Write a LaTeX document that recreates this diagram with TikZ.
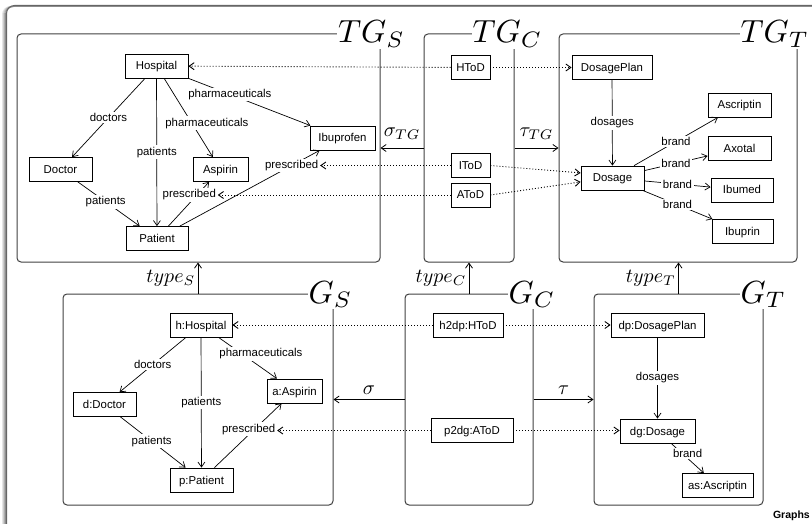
\documentclass[tikz,border=0pt]{standalone}
\usepackage{fontspec}
\setmainfont{Liberation Sans}
\usetikzlibrary{arrows.meta,calc}
\begin{document}
\begin{tikzpicture}[x=1pt,y=-1pt,
  font=\fontsize{11.4}{13}\selectfont,
  >={Straight Barb[length=5pt,width=7pt]},
  box/.style={draw, line width=0.8pt, minimum height=24pt, inner sep=1pt, text height=9pt, text depth=1pt},
  lab/.style={fill=white, inner sep=1.5pt},
  edge/.style={->, line width=0.7pt},
  dot/.style={->, line width=0.9pt, dash pattern=on 1pt off 2pt},
  panel/.style={draw=black!75, line width=1pt, rounded corners=4pt, inner sep=0pt},
  big/.style={fill=white, inner sep=0.3pt, scale=3.2, anchor=base west, font=\fontsize{10}{12}\selectfont},
  sm/.style={scale=2, inner sep=1pt, font=\fontsize{10}{12}\selectfont},
  conn/.style={->, line width=0.8pt}]
\useasboundingbox (0,0) rectangle (812,524);
% outer frame with shadow
\foreach \xx/\cc in {2.5/10,3.5/20,4.5/32,5.5/45}{
  \draw[black!\cc, line width=1pt, rounded corners=8pt] (\xx,524) -- (\xx,6.5) -- (812,6.5);
}
\draw[black!60, line width=1pt, rounded corners=8pt] (6.5,524) -- (6.5,5.5) -- (812,5.5);

% panels
\node[panel, minimum width=363pt, minimum height=228pt] (TGS) at (198.5,148) {};
\node[panel, minimum width=90pt, minimum height=228pt] (TGC) at (469,148) {};
\node[panel, minimum width=238pt, minimum height=228pt] (TGT) at (678,148) {};
\node[panel, minimum width=270pt, minimum height=211pt] (GS) at (198,399.5) {};
\node[panel, minimum width=128pt, minimum height=211pt] (GC) at (469,399.5) {};
\node[panel, minimum width=169pt, minimum height=211pt] (GT) at (678.5,399.5) {};

\node[big] (lTGS) at (336.5,43) {$TG_S$};
\node[big] (lTGC) at (471,43) {$TG_C$};
\node[big] (lTGT) at (739,43) {$TG_T$};
\node[big] (lGS) at (307,303) {$G_S$};
\node[big] (lGC) at (507,303) {$G_C$};
\node[big] (lGT) at (739,303) {$G_T$};

% connections between panels
\draw[conn] (TGC) -- node[sm, above=3pt] {$\sigma_{TG}$} (TGS);
\draw[conn] (TGC) -- node[sm, above=3pt] {$\tau_{TG}$} (TGT);
\draw[conn] (GC) -- node[sm, above=1pt] {$\sigma$} (GS);
\draw[conn] (GC) -- node[sm, above=1pt] {$\tau$} (GT);
\draw[conn] (GS.north) -- node[sm, left] {$type_S$} (GS.north |- TGS.south);
\draw[conn] (GC.north) -- node[sm, left] {$type_C$} (GC.north |- TGC.south);
\draw[conn] (GT.north) -- node[sm, left] {$type_T$} (GT.north |- TGT.south);

% TG_S
\node[box, minimum width=63pt] (hosp) at (156.5,66) {Hospital};
\node[box, minimum width=63pt] (doc) at (60.5,169.5) {Doctor};
\node[box, minimum width=55pt] (asp) at (220.5,169.5) {Aspirin};
\node[box, minimum width=65pt] (ibu) at (342.5,138) {Ibuprofen};
\node[box, minimum width=62pt] (pat) at (157,238.5) {Patient};
\draw[edge] (hosp) -- node[lab] {doctors} (doc);
\draw[edge] (hosp) -- node[lab] {patients} (pat);
\draw[edge] (hosp) -- node[lab, pos=.57, xshift=15pt] {pharmaceuticals} (asp);
\draw[edge] (hosp) -- node[lab, pos=.34] {pharmaceuticals} (ibu);
\draw[edge] (doc) -- node[lab, pos=.45] {patients} (pat);
\draw[edge] (pat) -- node[lab, pos=.71, xshift=-8pt] (lpa) {prescribed} (asp);
\draw[edge] (pat) -- node[lab, pos=.8] (lpi) {prescribed} (ibu);

% TG_C
\node[box, minimum width=39pt] (htod) at (470.5,67.5) {HToD};
\node[box, minimum width=39pt] (itod) at (470.5,165.5) {IToD};
\node[box, minimum width=39pt] (atod) at (470.5,195) {AToD};

% TG_T
\node[box, minimum width=80pt] (dplan) at (612,67.5) {DosagePlan};
\node[box, minimum width=63pt] (dos) at (612.5,178) {Dosage};
\node[box, minimum width=63pt] (ascr) at (739.5,105) {Ascriptin};
\node[box, minimum width=63pt] (axo) at (739.5,148.5) {Axotal};
\node[box, minimum width=62pt] (ibumed) at (742,190) {Ibumed};
\node[box, minimum width=61pt] (ibuprin) at (742.5,231.5) {Ibuprin};
\draw[edge] (dplan) -- node[lab] {dosages} (dos);
\draw[edge] (dos) -- node[lab] {brand} (ascr);
\draw[edge] (dos) -- node[lab] {brand} (axo);
\draw[edge] (dos) -- node[lab] {brand} (ibumed);
\draw[edge] (dos) -- node[lab] {brand} (ibuprin);

% dotted correspondences (top)
\draw[dot] (htod) -- (hosp);
\draw[dot] (htod) -- (dplan);
\draw[dot] (itod) -- (itod -| lpi.east);
\draw[dot] (atod) -- (atod -| lpa.east);
\draw[dot] (itod.east) -- (dos.171);
\draw[dot] (atod.east) -- (dos.187);

% G_S
\node[box, minimum width=62pt] (hb) at (201,325) {h:Hospital};
\node[box, minimum width=63pt] (db) at (104.5,404.5) {d:Doctor};
\node[box, minimum width=55pt] (ab) at (294.5,391) {a:Aspirin};
\node[box, minimum width=63pt] (pb) at (201.5,480) {p:Patient};
\draw[edge] (hb) -- node[lab] {doctors} (db);
\draw[edge] (hb) -- node[lab, pos=.4, xshift=19pt] {pharmaceuticals} (ab);
\draw[edge] (hb) -- node[lab] {patients} (pb);
\draw[edge] (db) -- node[lab, pos=.48] {patients} (pb);
\draw[edge] (pb) -- node[lab, pos=.6, xshift=-6pt] (lpb) {prescribed} (ab);

% G_C
\node[box, minimum width=70pt] (h2dp) at (468,325) {h2dp:HToD};
\node[box, minimum width=82pt] (p2dg) at (472,430.5) {p2dg:AToD};

% G_T
\node[box, minimum width=93pt] (dpb) at (657.5,325) {dp:DosagePlan};
\node[box, minimum width=75pt] (dgb) at (657.5,431) {dg:Dosage};
\node[box, minimum width=71pt] (asb) at (717.5,485.5) {as:Ascriptin};
\draw[edge] (dpb) -- node[lab] {dosages} (dgb);
\draw[edge] (dgb) -- node[lab, pos=.35, xshift=5pt] {brand} (asb);

% dotted correspondences (bottom)
\draw[dot] (h2dp) -- (hb);
\draw[dot] (h2dp) -- (dpb);
\draw[dot] (p2dg) -- (p2dg -| lpb.east);
\draw[dot] (p2dg) -- (p2dg -| dgb.west);

\node[font=\bfseries\fontsize{10.5}{12}\selectfont, anchor=east, inner sep=0pt] (graphs) at (810,516) {Graphs};
\end{tikzpicture}
\end{document}
